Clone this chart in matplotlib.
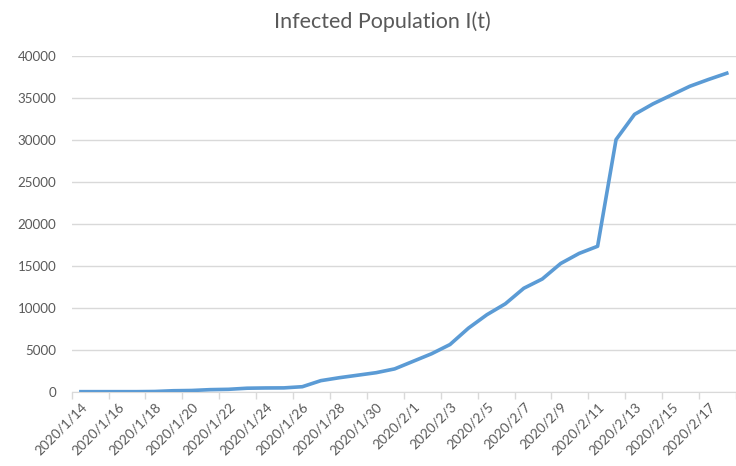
import numpy as np
import matplotlib
matplotlib.use("Agg")
import matplotlib.pyplot as plt

# daily infected counts, 2020/1/14 .. 2020/2/18
dates = ["2020/1/%d" % d for d in range(14, 32)] + ["2020/2/%d" % d for d in range(1, 19)]
infected = [40, 40, 40, 40, 60, 150, 180, 280, 320, 450, 480, 490,
            630, 1350, 1700, 2000, 2300, 2750, 3650, 4550, 5650, 7600,
            9200, 10500, 12350, 13450, 15300, 16500, 17350, 30050, 33050,
            34300, 35350, 36400, 37200, 37950]
yticks = [0, 5000, 10000, 15000, 20000, 25000, 30000, 35000, 40000]

plt.rcParams['font.family'] = ['Lato', 'DejaVu Sans']
grey_txt = '#595959'
grey_ln = '#d9d9d9'

fig = plt.figure(figsize=(7.36, 4.66), dpi=100)
ax = fig.add_axes([0.0974, 0.1588, 0.9026, 0.721])

x = np.arange(len(dates))
ax.plot(x, infected, color='#5b9bd5', lw=2.6, solid_joinstyle='round', zorder=3)

ax.set_xlim(-0.5, len(dates) - 0.5)
ax.set_ylim(0, 40000)
ax.set_yticks(yticks)
ax.set_yticklabels([str(v) for v in yticks], fontsize=9.6, color=grey_txt)
ax.yaxis.grid(True, color=grey_ln, lw=1)
ax.set_axisbelow(True)

# labels on every other day, tick marks between category pairs
ax.set_xticks(x[::2])
ax.set_xticklabels(dates[::2], rotation=45, ha='right', va='top',
                   rotation_mode='anchor', fontsize=9.8, color=grey_txt)
ax.set_xticks(np.arange(-0.5, len(dates), 2), minor=True)
ax.tick_params(axis='x', which='major', length=0, pad=6)
ax.tick_params(axis='x', which='minor', length=5, color=grey_ln, width=1)
ax.tick_params(axis='y', length=0, pad=11)

for s in ['top', 'right', 'left']:
    ax.spines[s].set_visible(False)
ax.spines['bottom'].set_color(grey_ln)

fig.text(0.52, 0.953, 'Infected Population I(t)', ha='center', va='center',
         fontsize=15.5, color=grey_txt)

fig.savefig('out.png', dpi=100)
